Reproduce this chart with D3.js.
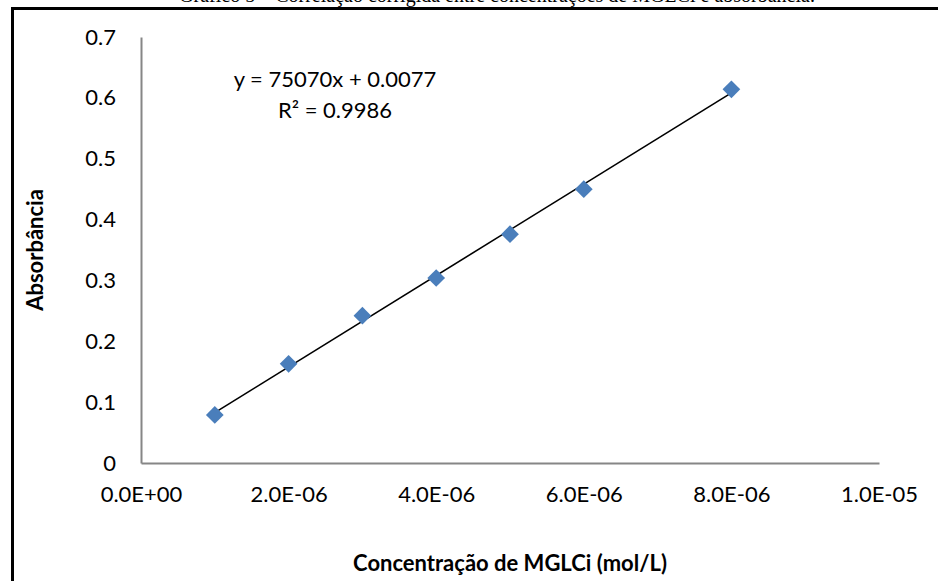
<!DOCTYPE html>
<html>
<head>
<meta charset="utf-8">
<script src="https://cdn.jsdelivr.net/npm/d3@7"></script>
<style>
  body { margin: 0; background: #fff; }
  svg { display: block; }
</style>
</head>
<body>
<div id="chart"></div>
<script>
// concentração (mol/L) e absorbância
const concentration = [1e-6, 2e-6, 3e-6, 4e-6, 5e-6, 6e-6, 8e-6];
const absorbance = [0.079, 0.163, 0.242, 0.304, 0.376, 0.450, 0.614];
const xTicks = [0, 2e-6, 4e-6, 6e-6, 8e-6, 1e-5];
const xTickLabels = ["0.0E+00", "2.0E-06", "4.0E-06", "6.0E-06", "8.0E-06", "1.0E-05"];
const yTicks = [0, 0.1, 0.2, 0.3, 0.4, 0.5, 0.6, 0.7];
const yTickLabels = ["0", "0.1", "0.2", "0.3", "0.4", "0.5", "0.6", "0.7"];
const slope = 75070;
const intercept = 0.0077;

const width = 938;
const height = 581;
const font = "Lato, 'Open Sans', sans-serif";

const svg = d3.select("#chart").append("svg")
    .attr("width", width).attr("height", height);

const x = d3.scaleLinear().domain([0, 1e-5]).range([141, 879]);
const y = d3.scaleLinear().domain([0, 0.7]).range([463, 37]);

// legenda do documento, cortada no topo
svg.append("text")
    .attr("x", 497).attr("y", 2)
    .attr("text-anchor", "middle")
    .attr("font-family", "'Liberation Serif', serif")
    .attr("font-size", 20)
    .text("Gráfico 5 – Correlação corrigida entre concentrações de MGLCi e absorbância.");

// moldura
svg.append("path")
    .attr("d", `M12.5,${height} V8.5 H${width}`)
    .attr("fill", "none").attr("stroke", "#000").attr("stroke-width", 3);

// eixos
const xAxis = d3.axisBottom(x).tickValues(xTicks)
    .tickFormat((d, i) => xTickLabels[i]).tickSize(0).tickPadding(23);
const yAxis = d3.axisLeft(y).tickValues(yTicks)
    .tickFormat((d, i) => yTickLabels[i]).tickSize(0).tickPadding(25);

const gx = svg.append("g").attr("transform", `translate(0,${y(0)})`).call(xAxis);
const gy = svg.append("g").attr("transform", `translate(${x(0)},0)`).call(yAxis);
[gx, gy].forEach(g => {
    g.select(".domain").attr("stroke", "#868686").attr("stroke-width", 2);
    g.selectAll("text").attr("font-family", font).attr("font-size", 22).attr("fill", "#000");
});

// linha de tendência
const fitX = d3.extent(concentration);
svg.append("line")
    .attr("x1", x(fitX[0])).attr("y1", y(slope * fitX[0] + intercept))
    .attr("x2", x(fitX[1])).attr("y2", y(slope * fitX[1] + intercept))
    .attr("stroke", "#000").attr("stroke-width", 1.6);

// pontos
const diamond = d3.symbol().type(d3.symbolDiamond2).size(200);
svg.append("g").selectAll("path")
    .data(concentration)
    .join("path")
    .attr("d", diamond)
    .attr("transform", (d, i) => `translate(${x(d)},${y(absorbance[i])})`)
    .attr("fill", "#4a7ebb");

// equação
const eq = svg.append("text")
    .attr("font-family", font).attr("font-size", 22)
    .attr("text-anchor", "middle").attr("fill", "#000");
eq.append("tspan").attr("x", 335).attr("y", 87).text(`y = ${slope}x + ${intercept}`);
eq.append("tspan").attr("x", 335).attr("y", 118).text("R² = 0.9986");

// títulos dos eixos
svg.append("text")
    .attr("x", 510).attr("y", 571)
    .attr("text-anchor", "middle")
    .attr("font-family", font).attr("font-size", 22).attr("font-weight", "bold")
    .text("Concentração de MGLCi (mol/L)");

svg.append("text")
    .attr("transform", "translate(43,250) rotate(-90)")
    .attr("text-anchor", "middle")
    .attr("font-family", font).attr("font-size", 22).attr("font-weight", "bold")
    .text("Absorbância");
</script>
</body>
</html>
